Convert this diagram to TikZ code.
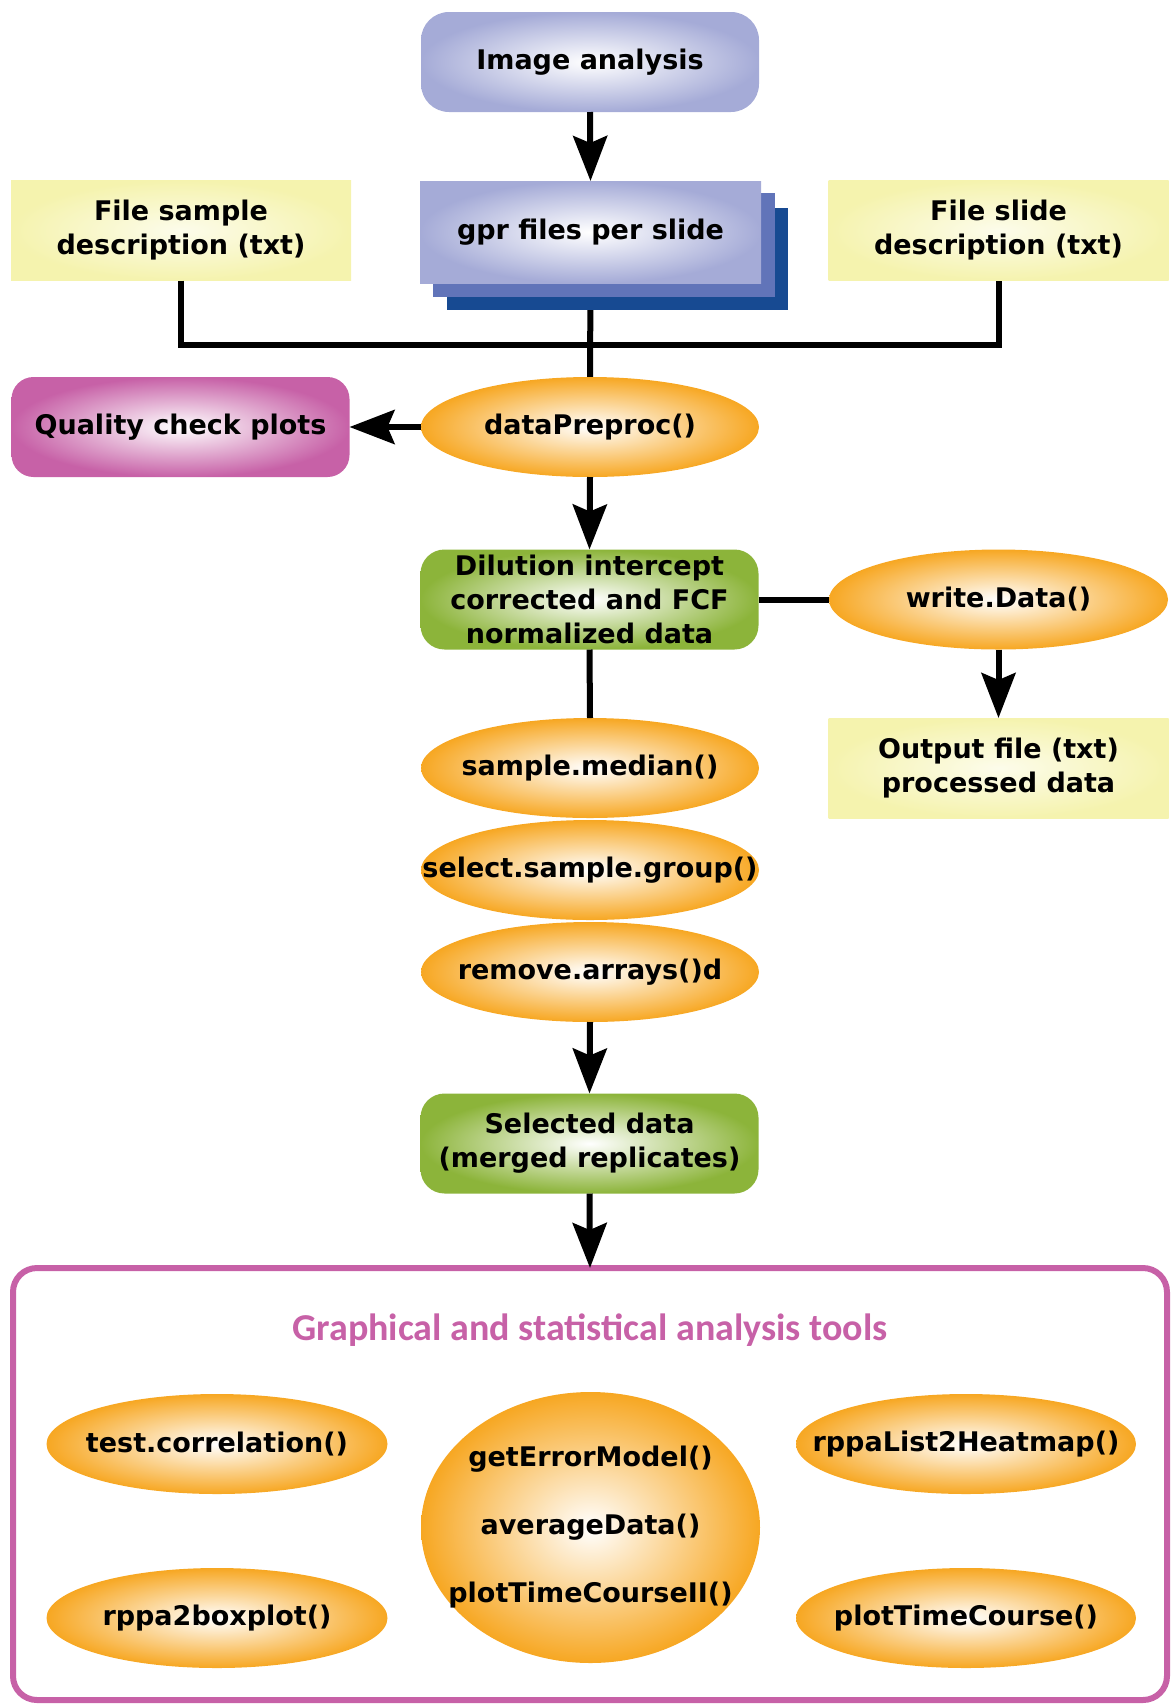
\documentclass[tikz,border=0pt]{standalone}
\usepackage{fontspec}
\setmainfont{DejaVu Sans}
\newfontfamily\titlefont{Carlito}
\usetikzlibrary{shapes.geometric,arrows.meta,positioning,backgrounds,calc}

\definecolor{blueface}{HTML}{A5ABD7}
\definecolor{gprmid}{HTML}{6174B9}
\definecolor{gprdark}{HTML}{174A92}
\definecolor{yellowface}{HTML}{F5F3AE}
\definecolor{magface}{HTML}{C761A7}
\definecolor{greenface}{HTML}{8CB43A}
\definecolor{fnorange}{HTML}{F7A722}

% keeps wide function names from growing the ellipses
\newcommand{\fnlabel}[1]{\makebox[0pt]{#1}}

\begin{document}
\begin{tikzpicture}[x=0.5pt, y=-0.5pt,
  every node/.style={font=\bfseries\fontsize{13.5}{17}\selectfont, inner sep=0pt, outer sep=0pt},
  box/.style={rectangle, minimum width=169pt, minimum height=50pt, align=center},
  bluebox/.style={box, inner color=white, outer color=blueface},
  yellowbox/.style={box, minimum width=170pt, inner color=yellowface!25!white, outer color=yellowface},
  magbox/.style={box, rounded corners=11pt, inner color=white, outer color=magface},
  greenbox/.style={box, rounded corners=12pt, inner color=white, outer color=greenface},
  fn/.style={ellipse, minimum width=169pt, minimum height=50pt, inner color=white, outer color=fnorange},
  conn/.style={line width=3pt},
  arr/.style={conn, -{Stealth[length=22.5pt, width=17pt, inset=3.5pt]}}]

\clip (0,0) rectangle (1171,1704);

% =========================
% INPUT FILES
% =========================
\node[bluebox, rounded corners=14pt] (imgana) at (590,62) {Image analysis};
\node[bluebox, minimum width=170.5pt, minimum height=51pt] (gpr) at (590.5,232) {gpr files per slide};
\node[yellowbox] (fsample) at (181,230.5) {File sample\\description (txt)};
\node[yellowbox] (fslide) at (998.5,230.5) {File slide\\description (txt)};
\coordinate (join) at (590,345);

% =========================
% PREPROCESSING
% =========================
\node[fn] (preproc) at (590,427) {\fnlabel{dataPreproc()}};
\node[magbox] (quality) at (180.5,427) {Quality check plots};
\node[greenbox] (dilution) at (589.5,599.5) {Dilution intercept\\corrected and FCF\\normalized data};
\node[fn, minimum width=169.5pt] (writedata) at (998.5,599.5) {\fnlabel{write.Data()}};
\node[yellowbox] (outfile) at (998.5,768) {Output file (txt)\\processed data};

% Selection steps
\node[fn] (median) at (590,768) {\fnlabel{sample.median()}};
\node[fn] (selgroup) at (590,870) {\fnlabel{select.sample.group()}};
\node[fn] (remarr) at (590,972) {\fnlabel{remove.arrays()d}};
\node[greenbox] (selected) at (589.5,1143.5) {Selected data\\(merged replicates)};

% =========================
% ANALYSIS TOOLS
% =========================
\node[draw=magface, line width=3pt, rounded corners=12pt, minimum width=577pt, minimum height=216pt] (tools) at (590,1484) {};
\node[font=\titlefont\bfseries\fontsize{19}{23}\selectfont, text=magface] (tooltitle) at (590,1330) {Graphical and statistical analysis tools};

\node[fn, minimum width=170.5pt] (testcorr) at (217,1444) {\fnlabel{test.correlation()}};
\node[fn, minimum width=170.5pt] (boxplot) at (217,1618) {\fnlabel{rppa2boxplot()}};
\node[fn, minimum width=170pt] (heatmap) at (966,1444) {\fnlabel{rppaList2Heatmap()}};
\node[fn, minimum width=170pt] (timecourse) at (966,1618) {\fnlabel{plotTimeCourse()}};
\node[fn, minimum width=169.5pt, minimum height=135.5pt] (errmodel) at (590.5,1527.5)
  {\fnlabel{\begin{tabular}{@{}c@{}}getErrorModel()\\[17pt]averageData()\\[17pt]plotTimeCourseII()\end{tabular}}};

% =========================
% CONNECTORS
% =========================
\begin{scope}[on background layer]
\draw[conn] (gpr.south) -- (preproc.north);
% slide stack
\fill[gprdark] ($(gpr.north west)+(27,27)$) rectangle ($(gpr.south east)+(27,27)$);
\fill[gprmid] ($(gpr.north west)+(13,12)$) rectangle ($(gpr.south east)+(14,14)$);
\end{scope}

\draw[arr] (imgana.south) -- (gpr.north);
\draw[conn] (fsample.south) |- (join) -| (fslide.south);
\draw[arr] (preproc.west) -- (quality.east);
\draw[arr] (preproc.south) -- (dilution.north);
\draw[conn] (dilution.east) -- (writedata.west);
\draw[arr] (writedata.south) -- (outfile.north);
\draw[conn] (dilution.south) -- (median.north);
\draw[arr] (remarr.south) -- (selected.north);
\draw[arr] (selected.south) -- (tools.north);

\end{tikzpicture}
\end{document}
